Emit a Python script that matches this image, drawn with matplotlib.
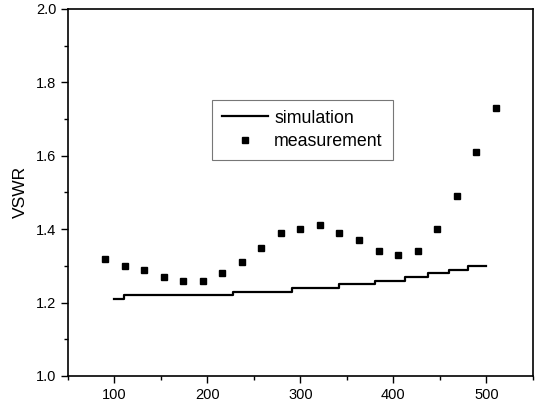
import numpy as np
import matplotlib.pyplot as plt
from matplotlib.ticker import MultipleLocator

# measurement points
meas_x = [90, 111, 132, 153, 174, 195, 216, 237, 258, 279, 300,
          321, 342, 363, 384, 405, 426, 447, 468, 489, 510]
meas_y = [1.32, 1.30, 1.29, 1.27, 1.26, 1.26, 1.28, 1.31, 1.35, 1.39, 1.40,
          1.41, 1.39, 1.37, 1.34, 1.33, 1.34, 1.40, 1.49, 1.61, 1.73]

# simulation (step curve)
sim_x = [100, 110, 228, 291, 341, 380, 412, 437, 460, 480, 500]
sim_y = [1.21, 1.22, 1.23, 1.24, 1.25, 1.26, 1.27, 1.28, 1.29, 1.30, 1.30]

plt.rcParams['font.family'] = ['Liberation Sans', 'DejaVu Sans']

fig = plt.figure(figsize=(5.35, 4.03), dpi=100)
ax = fig.add_axes([0.127, 0.067, 0.869, 0.911])

ax.plot(sim_x, sim_y, drawstyle='steps-post', color='black', lw=1.6, label='simulation')
ax.plot(meas_x, meas_y, 's', color='black', ms=4.2, ls='none', label='measurement')

ax.set_xlim(50, 550)
ax.set_ylim(1.0, 2.0)
ax.xaxis.set_major_locator(MultipleLocator(100))
ax.xaxis.set_minor_locator(MultipleLocator(50))
ax.yaxis.set_major_locator(MultipleLocator(0.2))
ax.yaxis.set_minor_locator(MultipleLocator(0.1))
ax.tick_params(which='major', direction='out', length=5, width=1, labelsize=10.5)
ax.tick_params(which='minor', direction='out', length=3, width=1)
ax.tick_params(top=False, right=False)
for s in ax.spines.values():
    s.set_linewidth(1.2)

ax.set_ylabel('VSWR', fontsize=12.5, labelpad=6)

leg = ax.legend(loc='upper left', bbox_to_anchor=(0.31, 0.752), fontsize=12.8,
                frameon=True, fancybox=False, edgecolor='#555555',
                handlelength=2.6, handletextpad=0.35, borderpad=0.55,
                borderaxespad=0, labelspacing=0.38)
leg.get_frame().set_linewidth(0.8)
# a bit of extra room on the right like the original box
leg._legend_box.align = 'left'

fig.savefig('out.png', dpi=100)
